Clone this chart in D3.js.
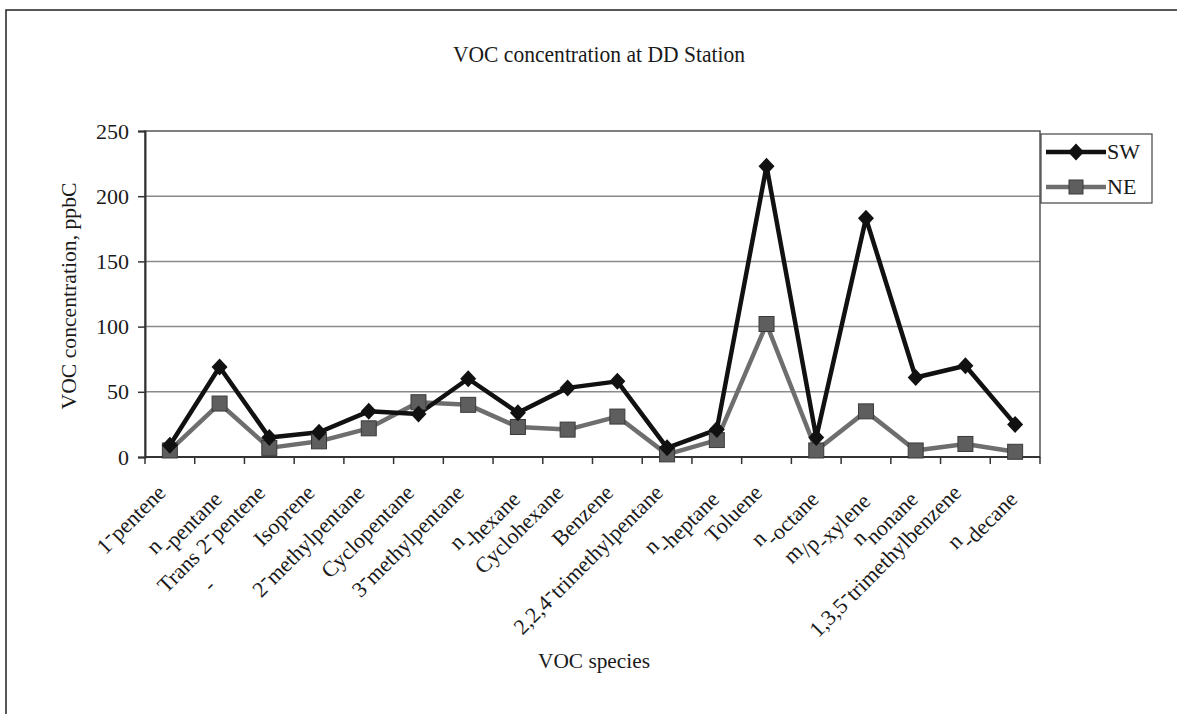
<!DOCTYPE html>
<html>
<head>
<meta charset="utf-8">
<script src="https://cdn.jsdelivr.net/npm/d3@7"></script>
<style>
  html, body { margin: 0; padding: 0; background: #fff; }
  svg { display: block; }
  text { font-family: "Liberation Serif", "Times New Roman", serif; fill: #1a1a1a; }
</style>
</head>
<body>
<svg id="chart" width="1177" height="714"></svg>
<script>
// ---- data ----
const categories = [
  "1-pentene", "n-pentane", "Trans 2-pentene", "Isoprene", "2-methylpentane",
  "Cyclopentane", "3-methylpentane", "n-hexane", "Cyclohexane", "Benzene",
  "2,2,4-trimethylpentane", "n-heptane", "Toluene", "n-octane", "m/p-xylene",
  "nonane", "1,3,5-trimethylbenzene", "n-decane"
];
const swValues = [9, 69, 15, 19, 35, 33, 60, 34, 53, 58, 7, 21, 223, 15, 183, 61, 70, 25];
const neValues = [5, 41, 7, 12, 22, 42, 40, 23, 21, 31, 2, 13, 102, 5, 35, 5, 10, 4];
const yTicks = [0, 50, 100, 150, 200, 250];
const seriesNames = ["SW", "NE"];

const titleText = "VOC concentration at DD Station";
const xTitle = "VOC species";
const yTitle = "VOC concentration, ppbC";

// ---- layout ----
const svg = d3.select("#chart");
const plot = { left: 145, right: 1040, top: 131, bottom: 457 };

// outer chart border
svg.append("rect")
  .attr("x", 6).attr("y", 10).attr("width", 1300).attr("height", 800)
  .attr("fill", "none").attr("stroke", "#222").attr("stroke-width", 1.5);

const x = d3.scaleBand().domain(categories).range([plot.left, plot.right]).padding(0);
const xc = d => x(d) + x.bandwidth() / 2;
const y = d3.scaleLinear().domain([0, 250]).range([plot.bottom, plot.top]);

// gridlines
svg.append("g").selectAll("line")
  .data(yTicks.filter(t => t > 0 && t < 250))
  .join("line")
  .attr("x1", plot.left).attr("x2", plot.right)
  .attr("y1", d => y(d)).attr("y2", d => y(d))
  .attr("stroke", "#8a8a8a").attr("stroke-width", 1.5);

// plot area border
svg.append("rect")
  .attr("x", plot.left).attr("y", plot.top)
  .attr("width", plot.right - plot.left).attr("height", plot.bottom - plot.top)
  .attr("fill", "none").attr("stroke", "#555").attr("stroke-width", 1.5);

// y axis
const yAxis = svg.append("g")
  .attr("transform", `translate(${plot.left},0)`)
  .call(d3.axisLeft(y).tickValues(yTicks).tickSize(7).tickPadding(9));
yAxis.select(".domain").attr("stroke", "#333").attr("stroke-width", 2);
yAxis.selectAll(".tick line").attr("stroke", "#333").attr("stroke-width", 1.5);
yAxis.selectAll(".tick text")
  .style("font-family", '"Liberation Serif", serif')
  .style("font-size", "22px").attr("fill", "#1a1a1a");

// x axis: ticks at category boundaries
const xAxisG = svg.append("g");
xAxisG.append("line")
  .attr("x1", plot.left).attr("x2", plot.right)
  .attr("y1", plot.bottom).attr("y2", plot.bottom)
  .attr("stroke", "#333").attr("stroke-width", 2);
const boundaries = categories.map(c => x(c)).concat([plot.right]);
xAxisG.selectAll("line.tk").data(boundaries).join("line")
  .attr("class", "tk")
  .attr("x1", d => d).attr("x2", d => d)
  .attr("y1", plot.bottom).attr("y2", plot.bottom + 7)
  .attr("stroke", "#333").attr("stroke-width", 1.5);

// x labels (rotated -45)
const labG = xAxisG.selectAll("g.lab").data(categories).join("g")
  .attr("class", "lab")
  .attr("transform", d => `translate(${xc(d) - 3},${plot.bottom + 37}) rotate(-45)`);
labG.each(function(d, i) {
  const t = d3.select(this).append("text")
    .attr("text-anchor", "end")
    .style("font-size", "22px");
  if (/^n-/.test(d)) {
    t.append("tspan").text("n");
    t.append("tspan").attr("dy", "0.42em").text("\u2010" + d.slice(2));
  } else if (d === "m/p-xylene") {
    t.append("tspan").text("m");
    t.append("tspan").attr("dy", "0.3em").text("/p");
    t.append("tspan").attr("dy", "0.25em").text("\u2010xylene");
  } else if (d === "nonane") {
    t.append("tspan").text("n");
    t.append("tspan").attr("dy", "0.42em").text("nonane");
  } else if (d.includes("-")) {
    const k = d.indexOf("-");
    t.append("tspan").text(d.slice(0, k));
    t.append("tspan").attr("dy", "-0.3em").text("\u2010");
    t.append("tspan").attr("dy", "0.3em").text(d.slice(k + 1));
  } else {
    t.text(d);
  }
  if (i === 2) {
    d3.select(this).append("text")
      .attr("x", -105).attr("y", 31)
      .attr("text-anchor", "middle")
      .style("font-size", "22px").text("-");
  }
});

// lines
const lineGen = vals => d3.line()
  .x((d, i) => xc(categories[i]))
  .y(d => y(d))(vals);

svg.append("path").attr("d", lineGen(neValues))
  .attr("fill", "none").attr("stroke", "#6e6e6e").attr("stroke-width", 4.5)
  .attr("stroke-linejoin", "round");
svg.append("path").attr("d", lineGen(swValues))
  .attr("fill", "none").attr("stroke", "#111").attr("stroke-width", 4.5)
  .attr("stroke-linejoin", "round");

const diamond = "M0,-8.5L8,0L0,8.5L-8,0Z";
// NE markers
svg.append("g").selectAll("rect").data(neValues).join("rect")
  .attr("x", (d, i) => xc(categories[i]) - 7.5)
  .attr("y", d => y(d) - 7.5)
  .attr("width", 15).attr("height", 15)
  .attr("fill", "#5e5e5e").attr("stroke", "#3a3a3a").attr("stroke-width", 1);
// SW markers
svg.append("g").selectAll("path").data(swValues).join("path")
  .attr("d", diamond)
  .attr("transform", (d, i) => `translate(${xc(categories[i])},${y(d)})`)
  .attr("fill", "#111");

// legend
const leg = svg.append("g");
leg.append("rect")
  .attr("x", 1041).attr("y", 134).attr("width", 111).attr("height", 69)
  .attr("fill", "#fff").attr("stroke", "#444").attr("stroke-width", 1.2);
seriesNames.forEach((name, i) => {
  const cy = 152 + i * 35;
  const g = leg.append("g");
  g.append("line").attr("x1", 1046).attr("x2", 1106).attr("y1", cy).attr("y2", cy)
    .attr("stroke", i === 0 ? "#111" : "#6e6e6e").attr("stroke-width", 4.5);
  if (i === 0) {
    g.append("path").attr("d", diamond).attr("transform", `translate(1076,${cy})`).attr("fill", "#111");
  } else {
    g.append("rect").attr("x", 1069).attr("y", cy - 7).attr("width", 14).attr("height", 14)
      .attr("fill", "#5e5e5e").attr("stroke", "#3a3a3a");
  }
  g.append("text").attr("x", 1107).attr("y", cy + 7)
    .style("font-size", "22px").text(name);
});

// titles
svg.append("text").attr("x", 599).attr("y", 62).attr("text-anchor", "middle")
  .attr("textLength", 292).attr("lengthAdjust", "spacingAndGlyphs")
  .style("font-size", "23px").text(titleText);
svg.append("text").attr("x", 594).attr("y", 668).attr("text-anchor", "middle")
  .attr("textLength", 112).attr("lengthAdjust", "spacingAndGlyphs")
  .style("font-size", "22px").text(xTitle);
svg.append("text")
  .attr("transform", `translate(76,296) rotate(-90)`)
  .attr("text-anchor", "middle")
  .attr("textLength", 227).attr("lengthAdjust", "spacingAndGlyphs")
  .style("font-size", "22px").text(yTitle);
</script>
</body>
</html>
